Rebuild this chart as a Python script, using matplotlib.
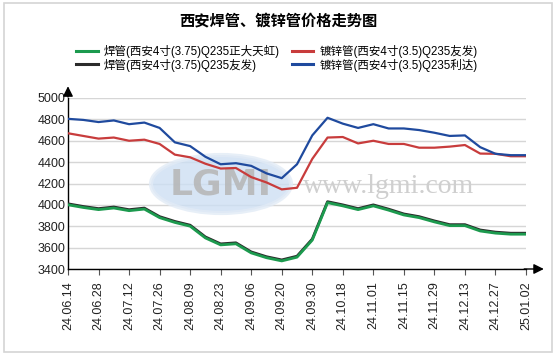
import matplotlib
matplotlib.use("Agg")
import matplotlib.pyplot as plt
import matplotlib.transforms as mtransforms
from matplotlib.patches import Ellipse, Rectangle
import numpy as np

# ---------------- data ----------------
tick_labels = ["24.06.14", "24.06.28", "24.07.12", "24.07.26", "24.08.09", "24.08.23",
               "24.09.06", "24.09.20", "24.09.30", "24.10.18", "24.11.01", "24.11.15",
               "24.11.29", "24.12.13", "24.12.27", "25.01.02"]

weld_zhengda = [4010, 3985, 3965, 3980, 3955, 3970, 3890, 3845, 3810, 3700, 3635,
                3645, 3560, 3515, 3485, 3520, 3680, 4030, 4000, 3965, 4000, 3960,
                3915, 3890, 3850, 3815, 3815, 3765, 3745, 3735, 3735]
weld_youfa = [4010, 3985, 3965, 3980, 3955, 3970, 3890, 3845, 3810, 3700, 3635,
              3645, 3560, 3515, 3485, 3520, 3680, 4030, 4000, 3965, 4000, 3960,
              3915, 3890, 3850, 3815, 3815, 3765, 3745, 3735, 3735]
galv_youfa = [4670, 4645, 4620, 4630, 4600, 4610, 4570, 4470, 4445, 4385, 4340,
              4345, 4260, 4210, 4145, 4160, 4430, 4630, 4635, 4575, 4600, 4570,
              4570, 4535, 4535, 4545, 4560, 4480, 4478, 4455, 4455]
galv_lida = [4805, 4795, 4775, 4790, 4755, 4770, 4720, 4585, 4550, 4450, 4380,
             4390, 4365, 4295, 4250, 4380, 4650, 4815, 4760, 4720, 4755, 4715,
             4715, 4700, 4675, 4645, 4650, 4540, 4478, 4465, 4465]

labels = ["焊管(西安4寸(3.75)Q235正大天虹)", "焊管(西安4寸(3.75)Q235友发)",
          "镀锌管(西安4寸(3.5)Q235友发)", "镀锌管(西安4寸(3.5)Q235利达)"]
title = "西安焊管、镀锌管价格走势图"

# ---------------- figure ----------------
W, H = 557, 356
fig = plt.figure(figsize=(W / 100, H / 100), dpi=100)
fig.patch.set_facecolor("white")

cjk = ["Liberation Sans", "Noto Sans CJK SC", "DejaVu Sans"]

# outer border
fig.add_artist(Rectangle((4 / W, 1 - 352 / H), 548 / W, 349 / H, transform=fig.transFigure,
                         fill=False, edgecolor="#d4d4d4", linewidth=1.2))

ax = fig.add_axes([68 / W, 1 - 269 / H, 458 / W, 171 / H])

n = len(galv_lida)
x = np.arange(n) * (len(tick_labels) - 1) / (n - 1)

ax.set_xlim(0, len(tick_labels) - 1)
ax.set_ylim(3400, 5000)
ax.set_yticks(np.arange(3400, 5001, 200))
ax.set_xticks(np.arange(len(tick_labels)))
ax.set_xticklabels(tick_labels, rotation=90, fontsize=9, family="Liberation Sans")
for lab in ax.get_yticklabels():
    lab.set_family("Liberation Sans")
    lab.set_fontsize(9)
ax.tick_params(axis="y", length=0, pad=2, colors="#222222")
ax.tick_params(axis="x", length=4, width=0.8, color="#555555", pad=5, labelcolor="#222222")
ax.grid(axis="y", color="#d6d6d6", linewidth=1, zorder=0)
ax.set_axisbelow(True)
for s in ["top", "right"]:
    ax.spines[s].set_visible(False)
ax.spines["left"].set_color("black")
ax.spines["bottom"].set_color("black")
ax.spines["left"].set_linewidth(1)
ax.spines["bottom"].set_linewidth(1)

# arrows on axes
ax.annotate("", xy=(0, 1.085), xytext=(0, 0.99), xycoords="axes fraction",
            arrowprops=dict(arrowstyle="-|>,head_length=0.6,head_width=0.3", color="black", lw=1),
            annotation_clip=False)
ax.annotate("", xy=(1.045, 0), xytext=(0.99, 0), xycoords="axes fraction",
            arrowprops=dict(arrowstyle="-|>,head_length=0.6,head_width=0.3", color="black", lw=1),
            annotation_clip=False)

# watermark (inside axes, behind lines)
ell = Ellipse((221 / W, 1 - 184 / H), 140 / W, 58 / H, transform=fig.transFigure,
              facecolor="#cddff3", edgecolor="#e2ebf6", linewidth=3, alpha=0.8, zorder=1,
              clip_on=False)
ax.add_artist(ell)
ax.text(221 / W, 1 - 184 / H, "LGMI", transform=fig.transFigure, ha="center", va="center",
        fontsize=26, fontweight="bold", color="#b5b5b5", alpha=0.85, family="DejaVu Sans",
        zorder=1.5, clip_on=False)
ax.text(389 / W, 1 - 186 / H, "www.lgmi.com", transform=fig.transFigure, ha="center",
        va="center", fontsize=20, color="#cfcfcf", family="Liberation Serif", zorder=1.5,
        clip_on=False)

# lines
off = mtransforms.offset_copy(ax.transData, fig=fig, x=0, y=-1.0, units="dots")
l_black, = ax.plot(x, weld_youfa, color="#2b2b2b", lw=2.0, solid_joinstyle="round", zorder=3)
l_green, = ax.plot(x, weld_zhengda, color="#1c9a4e", lw=2.0, solid_joinstyle="round",
                   transform=off, zorder=4)
l_red, = ax.plot(x, galv_youfa, color="#c83c3c", lw=1.6, solid_joinstyle="round", zorder=3)
l_blue, = ax.plot(x, galv_lida, color="#1f4a9e", lw=1.6, solid_joinstyle="round", zorder=3)

# title
fig.text(0.5, 1 - 20 / H, title, ha="center", va="center", fontsize=11,
         fontweight="bold", family=["Noto Sans CJK SC", "DejaVu Sans"])

# legend
leg = fig.legend([l_green, l_black, l_red, l_blue], labels, ncol=2, loc="center",
                 bbox_to_anchor=(0.497, 1 - 58.5 / H), frameon=False, handlelength=1.9,
                 handletextpad=0.5, columnspacing=1.0, labelspacing=0.0,
                 prop={"family": cjk, "size": 8.3})
for h in leg.legend_handles:
    h.set_linewidth(2.2)

fig.savefig("out.png", dpi=100, facecolor="white")
